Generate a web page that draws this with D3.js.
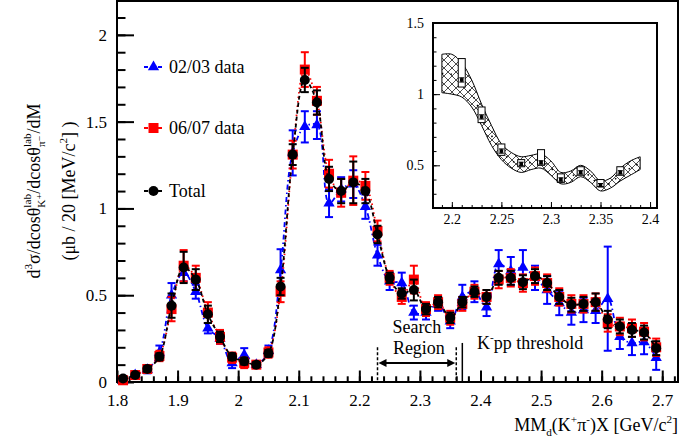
<!DOCTYPE html>
<html>
<head>
<meta charset="utf-8">
<script src="https://cdn.jsdelivr.net/npm/d3@7"></script>
<style>
  body { margin: 0; background: #fff; }
  svg text { font-family: "Liberation Serif", "Times New Roman", "DejaVu Serif", serif; fill: #000; }
</style>
</head>
<body>
<div id="vis"></div>
<script>
// Chart size
const FRAME_WIDTH = 697;
const FRAME_HEIGHT = 442;
const SERIF = "Liberation Serif, Times New Roman, serif";

// Bin centres (GeV/c^2)
const MASS = [1.81, 1.83, 1.85, 1.87, 1.89, 1.91, 1.93, 1.95, 1.97, 1.99,
              2.01, 2.03, 2.05, 2.07, 2.09, 2.11, 2.13, 2.15, 2.17, 2.19,
              2.21, 2.23, 2.25, 2.27, 2.29, 2.31, 2.33, 2.35, 2.37, 2.39,
              2.41, 2.43, 2.45, 2.47, 2.49, 2.51, 2.53, 2.55, 2.57, 2.59,
              2.61, 2.63, 2.65, 2.67, 2.69];

// 02/03 data
const DATA_0203 = [0.01, 0.04, 0.07, 0.17, 0.50, 0.63, 0.52, 0.31, 0.25, 0.11,
                   0.155, 0.10, 0.18, 0.645, 1.32, 1.47, 1.48, 1.03, 1.11, 1.14,
                   1.01, 0.73, 0.58, 0.57, 0.40, 0.40, 0.45, 0.35, 0.49, 0.52,
                   0.43, 0.68, 0.64, 0.66, 0.60, 0.53, 0.455, 0.40, 0.415, 0.41,
                   0.48, 0.26, 0.225, 0.23, 0.14];
const ERR_0203 = [0.02, 0.02, 0.02, 0.04, 0.07, 0.05, 0.04, 0.03, 0.03, 0.03,
                  0.04, 0.02, 0.03, 0.12, 0.13, 0.09, 0.08, 0.08, 0.07, 0.08,
                  0.07, 0.06, 0.05, 0.06, 0.04, 0.04, 0.04, 0.04, 0.07, 0.06,
                  0.05, 0.08, 0.08, 0.10, 0.07, 0.08, 0.07, 0.07, 0.07, 0.07,
                  0.30, 0.07, 0.07, 0.07, 0.07];

// 06/07 data
const DATA_0607 = [0.01, 0.04, 0.075, 0.15, 0.42, 0.67, 0.60, 0.40, 0.26, 0.14,
                   0.11, 0.10, 0.17, 0.52, 1.31, 1.80, 1.62, 1.20, 1.09, 1.16,
                   1.13, 0.87, 0.60, 0.49, 0.59, 0.42, 0.46, 0.37, 0.45, 0.52,
                   0.49, 0.59, 0.60, 0.57, 0.61, 0.57, 0.49, 0.45, 0.45, 0.46,
                   0.34, 0.32, 0.31, 0.29, 0.20];
const ERR_0607 = [0.02, 0.02, 0.02, 0.03, 0.07, 0.09, 0.07, 0.06, 0.04, 0.03,
                  0.03, 0.02, 0.03, 0.06, 0.08, 0.10, 0.08, 0.08, 0.08, 0.14,
                  0.08, 0.06, 0.04, 0.04, 0.08, 0.04, 0.04, 0.04, 0.04, 0.04,
                  0.04, 0.05, 0.05, 0.05, 0.05, 0.05, 0.05, 0.05, 0.05, 0.05,
                  0.05, 0.05, 0.05, 0.05, 0.05];

// Total
const DATA_TOTAL = [0.02, 0.04, 0.075, 0.145, 0.44, 0.66, 0.59, 0.39, 0.26, 0.145,
                    0.12, 0.10, 0.165, 0.55, 1.31, 1.74, 1.61, 1.17, 1.10, 1.15,
                    1.10, 0.85, 0.60, 0.51, 0.53, 0.42, 0.46, 0.37, 0.46, 0.52,
                    0.49, 0.60, 0.60, 0.575, 0.61, 0.57, 0.49, 0.445, 0.45, 0.46,
                    0.36, 0.32, 0.30, 0.285, 0.195];
const ERR_TOTAL = [0.01, 0.01, 0.015, 0.02, 0.07, 0.09, 0.06, 0.05, 0.03, 0.02,
                   0.02, 0.015, 0.02, 0.05, 0.06, 0.07, 0.07, 0.07, 0.07, 0.12,
                   0.07, 0.05, 0.03, 0.03, 0.06, 0.03, 0.03, 0.03, 0.03, 0.03,
                   0.04, 0.04, 0.04, 0.04, 0.04, 0.04, 0.04, 0.04, 0.04, 0.05,
                   0.05, 0.04, 0.04, 0.04, 0.04];

// Tick labels
const X_TICKS = [1.8, 1.9, 2.0, 2.1, 2.2, 2.3, 2.4, 2.5, 2.6, 2.7];
const Y_TICKS = [0, 0.5, 1, 1.5, 2];

// Inset: points with systematic boxes
const INSET_MASS = [2.21, 2.23, 2.25, 2.27, 2.29, 2.31, 2.33, 2.35, 2.37];
const INSET_VAL = [1.10, 0.84, 0.60, 0.51, 0.52, 0.40, 0.45, 0.36, 0.45];
const INSET_ERR = [0.015, 0.015, 0.015, 0.012, 0.012, 0.012, 0.012, 0.012, 0.012];
const INSET_BOX_LO = [1.05, 0.80, 0.57, 0.49, 0.50, 0.38, 0.43, 0.35, 0.43];
const INSET_BOX_HI = [1.25, 0.91, 0.65, 0.54, 0.61, 0.44, 0.49, 0.40, 0.49];

// Inset: hatched band
const BAND_MASS = [2.19, 2.20, 2.21, 2.22, 2.23, 2.24, 2.25, 2.26, 2.27, 2.28, 2.29,
                   2.30, 2.31, 2.32, 2.33, 2.34, 2.35, 2.36, 2.37, 2.38, 2.39];
const BAND_HI = [1.28, 1.28, 1.22, 1.10, 0.93, 0.78, 0.65, 0.59, 0.56, 0.57, 0.58,
                 0.53, 0.45, 0.46, 0.50, 0.46, 0.39, 0.41, 0.48, 0.53, 0.56];
const BAND_LO = [1.01, 1.00, 0.98, 0.91, 0.78, 0.64, 0.54, 0.48, 0.45, 0.47, 0.48,
                 0.43, 0.37, 0.38, 0.42, 0.38, 0.32, 0.34, 0.39, 0.43, 0.47];
const INSET_X_TICKS = [2.2, 2.25, 2.3, 2.35, 2.4];
const INSET_Y_TICKS = [0.5, 1, 1.5];

const SVG = d3.select("#vis").append("svg")
              .attr("width", FRAME_WIDTH)
              .attr("height", FRAME_HEIGHT)
              .attr("font-family", SERIF);

// Pattern for the cross hatched band
const defs = SVG.append("defs");
const pat = defs.append("pattern")
                .attr("id", "xhatch")
                .attr("patternUnits", "userSpaceOnUse")
                .attr("width", 8).attr("height", 8);
pat.append("path").attr("d", "M0,0 L8,8 M8,0 L0,8")
   .attr("stroke", "#000").attr("stroke-width", 0.7);

// Main plot area
const PLOT = {left: 117, right: 678, top: 1, bottom: 382};

const X_SCALE = d3.scaleLinear().domain([1.8, 2.726]).range([PLOT.left, PLOT.right]);
const Y_SCALE = d3.scaleLinear().domain([0, 2.195]).range([PLOT.bottom, PLOT.top]);

// writes a label made of pieces (sup/sub script), returns its width
function richText(parent, parts, fs) {
  let cx = 0, prevStart = 0;
  parts.forEach((p) => {
    const t = parent.append("text")
                    .attr("font-size", fs * (p.s || 1))
                    .attr("y", -(p.sh || 0) * fs)
                    .text(p.t);
    const w = t.node().getComputedTextLength();
    const start = p.stack ? prevStart : cx;
    t.attr("x", start);
    cx = p.stack ? Math.max(cx, start + w) : start + w;
    prevStart = start;
  });
  return cx;
}

// X axis ticks (inside)
const xMinor = d3.range(90, 137).map((i) => i / 50);
SVG.append("g")
   .attr("transform", "translate(0," + PLOT.bottom + ")")
   .call(d3.axisBottom(X_SCALE).tickValues(xMinor).tickFormat("").tickSize(-5.7).tickSizeOuter(0))
   .call((g) => g.select(".domain").remove());
SVG.append("g")
   .attr("transform", "translate(0," + PLOT.bottom + ")")
   .call(d3.axisBottom(X_SCALE).tickValues(X_TICKS).tickFormat(d3.format("")).tickSize(-11.5).tickPadding(12).tickSizeOuter(0))
   .call((g) => g.select(".domain").remove())
   .attr("font-size", "17px").attr("font-family", SERIF);

// Y axis ticks (inside)
const yMinor = d3.range(0, 22).map((i) => i / 10);
SVG.append("g")
   .attr("transform", "translate(" + PLOT.left + ",0)")
   .call(d3.axisLeft(Y_SCALE).tickValues(yMinor).tickFormat("").tickSize(-8.5).tickSizeOuter(0))
   .call((g) => g.select(".domain").remove());
SVG.append("g")
   .attr("transform", "translate(" + PLOT.left + ",0)")
   .call(d3.axisLeft(Y_SCALE).tickValues(Y_TICKS).tickFormat(d3.format("")).tickSize(-17).tickPadding(10).tickSizeOuter(0))
   .call((g) => g.select(".domain").remove())
   .attr("font-size", "17px").attr("font-family", SERIF);

SVG.selectAll(".tick line").attr("stroke", "#000").attr("stroke-width", 2);

// Frame
SVG.append("rect")
   .attr("x", PLOT.left).attr("y", PLOT.top)
   .attr("width", PLOT.right - PLOT.left).attr("height", PLOT.bottom - PLOT.top)
   .attr("fill", "none").attr("stroke", "#000").attr("stroke-width", 2);

// Series
const SERIES = [
  {vals: DATA_0203, errs: ERR_0203, color: "#0000ff", dash: "5,3,1.5,3", marker: "tri"},
  {vals: DATA_0607, errs: ERR_0607, color: "#ff0000", dash: "1.5,3", marker: "sq"},
  {vals: DATA_TOTAL, errs: ERR_TOTAL, color: "#000000", dash: "4,3", marker: "circ"}
];

function drawMarker(g, kind, cx, cy, color) {
  if (kind === "circ") {
    g.append("circle").attr("cx", cx).attr("cy", cy).attr("r", 5).attr("fill", color);
  } else if (kind === "sq") {
    g.append("rect").attr("x", cx - 5).attr("y", cy - 5).attr("width", 10).attr("height", 10).attr("fill", color);
  } else {
    g.append("path").attr("transform", "translate(" + cx + "," + cy + ")")
     .attr("d", d3.symbol().type(d3.symbolTriangle).size(55)()).attr("fill", color);
  }
}

const line = d3.line()
               .x((d) => X_SCALE(d[0]))
               .y((d) => Y_SCALE(d[1]))
               .curve(d3.curveCatmullRom);

SERIES.forEach((s) => {
  const g = SVG.append("g");
  const pts = MASS.map((m, i) => [m, s.vals[i], s.errs[i]]);
  g.append("path").attr("d", line(pts))
   .attr("fill", "none").attr("stroke", s.color).attr("stroke-width", 1.8)
   .attr("stroke-dasharray", s.dash);
  pts.forEach((p) => {
    const cx = X_SCALE(p[0]);
    const y0 = Y_SCALE(Math.max(0, p[1] - p[2]));
    const y1 = Y_SCALE(p[1] + p[2]);
    g.append("line").attr("x1", cx).attr("x2", cx).attr("y1", y0).attr("y2", y1)
     .attr("stroke", s.color).attr("stroke-width", 2);
    [y0, y1].forEach((yy) => {
      g.append("line").attr("x1", cx - 4).attr("x2", cx + 4).attr("y1", yy).attr("y2", yy)
       .attr("stroke", s.color).attr("stroke-width", 2);
    });
    drawMarker(g, s.marker, cx, Y_SCALE(p[1]), s.color);
  });
});

// Legend
const LEGEND = [
  {label: "02/03 data", y: 67, s: SERIES[0]},
  {label: "06/07 data", y: 128, s: SERIES[1]},
  {label: "Total", y: 191, s: SERIES[2]}
];
LEGEND.forEach((l) => {
  const g = SVG.append("g");
  g.append("line").attr("x1", 144).attr("x2", 163).attr("y1", l.y).attr("y2", l.y)
   .attr("stroke", l.s.color).attr("stroke-width", 2).attr("stroke-dasharray", "4,3");
  drawMarker(g, l.s.marker, 153.5, l.y, l.s.color);
  g.append("text").attr("x", 169).attr("y", l.y + 6).attr("font-size", 18).text(l.label);
});

// Y axis title (two lines)
const yt1 = SVG.append("g").attr("transform", "translate(40,191) rotate(-90)");
const yt1in = yt1.append("g");
const w1 = richText(yt1in, [
  {t: "d"}, {t: "3", s: 0.62, sh: 0.45}, {t: "σ/dcosθ"},
  {t: "lab", s: 0.62, sh: 0.48}, {t: "K⁺", s: 0.62, sh: -0.3, stack: true},
  {t: "/dcosθ"},
  {t: "lab", s: 0.62, sh: 0.48}, {t: "π⁻", s: 0.62, sh: -0.3, stack: true},
  {t: "/dM"}
], 18);
yt1in.attr("transform", "translate(" + (-w1 / 2) + ",0)");

const yt2 = SVG.append("g").attr("transform", "translate(75,191) rotate(-90)");
const yt2in = yt2.append("g");
const w2 = richText(yt2in, [
  {t: "(μb / 20 [MeV/c"}, {t: "2", s: 0.62, sh: 0.45}, {t: "] )"}
], 18);
yt2in.attr("transform", "translate(" + (-w2 / 2) + ",0)");

// X axis title, right aligned
const xt = SVG.append("g");
const wx = richText(xt, [
  {t: "MM"}, {t: "d", s: 0.62, sh: -0.28}, {t: "(K"}, {t: "+", s: 0.62, sh: 0.45},
  {t: "π"}, {t: "-", s: 0.62, sh: 0.45}, {t: ")X [GeV/c"}, {t: "2", s: 0.62, sh: 0.45}, {t: "]"}
], 18);
xt.attr("transform", "translate(" + (PLOT.right - wx) + ",431)");

// Search region and threshold
const SEARCH_LO = 2.23, SEARCH_HI = 2.36, THRESHOLD = 2.37;
[SEARCH_LO, SEARCH_HI].forEach((m) => {
  SVG.append("line").attr("x1", X_SCALE(m)).attr("x2", X_SCALE(m))
     .attr("y1", Y_SCALE(0.2)).attr("y2", PLOT.bottom)
     .attr("stroke", "#000").attr("stroke-width", 1.5).attr("stroke-dasharray", "3,2");
});
SVG.append("line").attr("x1", X_SCALE(THRESHOLD)).attr("x2", X_SCALE(THRESHOLD))
   .attr("y1", Y_SCALE(0.225)).attr("y2", PLOT.bottom)
   .attr("stroke", "#000").attr("stroke-width", 1.5);
const ay = Y_SCALE(0.11);
const ax0 = X_SCALE(SEARCH_LO) + 1, ax1 = X_SCALE(SEARCH_HI) - 1;
SVG.append("line").attr("x1", ax0 + 3).attr("x2", ax1 - 3).attr("y1", ay).attr("y2", ay)
   .attr("stroke", "#000").attr("stroke-width", 2);
SVG.append("path").attr("d", "M" + ax0 + "," + ay + " l8,-4 l0,8 z").attr("fill", "#000");
SVG.append("path").attr("d", "M" + ax1 + "," + ay + " l-8,-4 l0,8 z").attr("fill", "#000");
const midSearch = X_SCALE((SEARCH_LO + SEARCH_HI) / 2);
SVG.append("text").attr("x", midSearch).attr("y", 333).attr("text-anchor", "middle").attr("font-size", 18).text("Search");
SVG.append("text").attr("x", midSearch + 2).attr("y", 354).attr("text-anchor", "middle").attr("font-size", 18).text("Region");
const kt = SVG.append("g").attr("transform", "translate(477,349)");
richText(kt, [{t: "K"}, {t: "-", s: 0.62, sh: 0.45}, {t: "pp threshold"}], 18);

// ---------- Inset ----------
const INSET = {left: 433, right: 657, top: 23, bottom: 208};
const XI = d3.scaleLinear().domain([2.181, 2.407]).range([INSET.left, INSET.right]);
const YI = d3.scaleLinear().domain([0.2, 1.5]).range([INSET.bottom, INSET.top]);

SVG.append("rect")
   .attr("x", INSET.left).attr("y", INSET.top)
   .attr("width", INSET.right - INSET.left).attr("height", INSET.bottom - INSET.top)
   .attr("fill", "#fff");

const bandPts = BAND_MASS.map((m, i) => ({m: m, lo: BAND_LO[i], hi: BAND_HI[i]}));
const area = d3.area()
               .x((d) => XI(d.m)).y0((d) => YI(d.lo)).y1((d) => YI(d.hi))
               .curve(d3.curveCatmullRom);
SVG.append("path").attr("d", area(bandPts))
   .attr("fill", "url(#xhatch)").attr("stroke", "#000").attr("stroke-width", 1);
SVG.append("path")
   .attr("d", d3.line().x((d) => XI(d.m)).y((d) => YI((d.lo + d.hi) / 2)).curve(d3.curveCatmullRom)(bandPts))
   .attr("fill", "none").attr("stroke", "#000").attr("stroke-width", 1.5).attr("stroke-dasharray", "1.5,7");

INSET_MASS.forEach((m, i) => {
  const cx = XI(m);
  SVG.append("rect").attr("x", cx - 3.5).attr("y", YI(INSET_BOX_HI[i]))
     .attr("width", 7).attr("height", YI(INSET_BOX_LO[i]) - YI(INSET_BOX_HI[i]))
     .attr("fill", "#fff").attr("stroke", "#000").attr("stroke-width", 1);
  const y0 = YI(INSET_VAL[i] - INSET_ERR[i]), y1 = YI(INSET_VAL[i] + INSET_ERR[i]);
  SVG.append("line").attr("x1", cx).attr("x2", cx).attr("y1", y0).attr("y2", y1).attr("stroke", "#000").attr("stroke-width", 1);
  [y0, y1].forEach((yy) => {
    SVG.append("line").attr("x1", cx - 2.5).attr("x2", cx + 2.5).attr("y1", yy).attr("y2", yy).attr("stroke", "#000").attr("stroke-width", 1);
  });
  SVG.append("rect").attr("x", cx - 1.8).attr("y", YI(INSET_VAL[i]) - 1.8)
     .attr("width", 3.6).attr("height", 3.6).attr("fill", "#000");
});

// Inset axes
const xiMinor = d3.range(219, 241).map((i) => i / 100);
SVG.append("g")
   .attr("transform", "translate(0," + INSET.bottom + ")")
   .call(d3.axisBottom(XI).tickValues(xiMinor).tickFormat("").tickSize(-3).tickSizeOuter(0))
   .call((g) => g.select(".domain").remove());
SVG.append("g")
   .attr("transform", "translate(0," + INSET.bottom + ")")
   .call(d3.axisBottom(XI).tickValues(INSET_X_TICKS).tickFormat(d3.format("")).tickSize(-6).tickPadding(6).tickSizeOuter(0))
   .call((g) => g.select(".domain").remove())
   .attr("font-size", "14px").attr("font-family", SERIF);
const yiMinor = d3.range(2, 16).map((i) => i / 10);
SVG.append("g")
   .attr("transform", "translate(" + INSET.left + ",0)")
   .call(d3.axisLeft(YI).tickValues(yiMinor).tickFormat("").tickSize(-3.5).tickSizeOuter(0))
   .call((g) => g.select(".domain").remove());
SVG.append("g")
   .attr("transform", "translate(" + INSET.left + ",0)")
   .call(d3.axisLeft(YI).tickValues(INSET_Y_TICKS).tickFormat(d3.format("")).tickSize(-7).tickPadding(9).tickSizeOuter(0))
   .call((g) => g.select(".domain").remove())
   .attr("font-size", "14px").attr("font-family", SERIF);
SVG.selectAll(".tick line").attr("stroke", "#000");

SVG.append("rect")
   .attr("x", INSET.left).attr("y", INSET.top)
   .attr("width", INSET.right - INSET.left).attr("height", INSET.bottom - INSET.top)
   .attr("fill", "none").attr("stroke", "#000").attr("stroke-width", 2);
</script>
</body>
</html>
